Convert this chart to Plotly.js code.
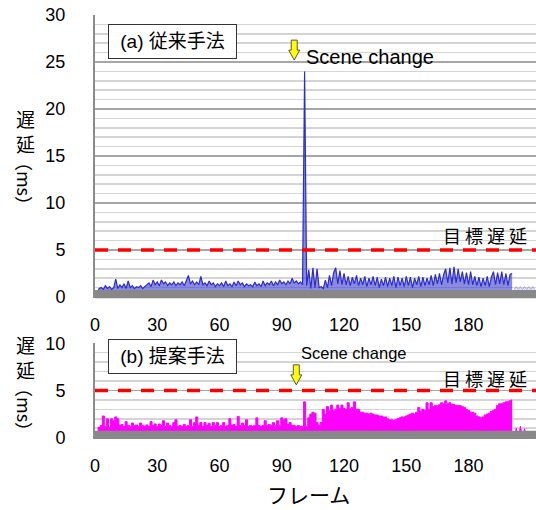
<!DOCTYPE html>
<html><head><meta charset="utf-8">
<script src="https://cdn.plot.ly/plotly-3.0.1.min.js"></script>
<style>html,body{margin:0;padding:0;background:#fff;}#chart{width:536px;height:510px;}</style>
</head><body><div id="chart"></div>
<script>
const xTicks = [0, 30, 60, 90, 120, 150, 180];
const targetDelay = 5;
// (a) conventional method, delay (ms) per frame, frames 1..201
const conventional = [
  0.3, 0.9, 1.0, 0.8, 1.2, 0.9, 1.1, 0.8, 1.0, 1.9,
  0.9, 1.3, 1.0, 1.4, 0.9, 1.7, 1.0, 1.2, 0.9, 1.1,
  1.0, 1.2, 0.9, 1.1, 1.3, 1.5, 1.1, 1.8, 1.3, 1.6,
  1.2, 1.8, 1.4, 1.6, 1.2, 1.5, 1.3, 1.6, 1.2, 1.5,
  1.3, 1.6, 1.2, 1.7, 2.3, 1.4, 1.7, 1.3, 1.6, 1.3,
  2.2, 1.3, 1.5, 1.2, 1.7, 1.3, 1.5, 1.1, 1.4, 1.2,
  1.5, 1.1, 1.7, 1.2, 1.4, 1.1, 1.6, 1.2, 1.7, 1.3,
  1.5, 1.1, 1.4, 1.2, 1.3, 1.1, 1.6, 1.2, 1.4, 1.1,
  1.7, 1.2, 1.5, 1.3, 1.7, 1.2, 1.6, 1.3, 1.8, 1.4,
  1.6, 1.3, 1.7, 1.4, 2.0, 1.5, 1.7, 1.4, 1.6, 1.3,
  24.0, 1.2, 2.9, 0.9, 3.1, 1.0, 3.0, 1.0, 1.1, 0.9,
  1.8, 1.0, 2.3, 1.2, 2.6, 3.1, 1.4, 2.8, 1.3, 2.5,
  1.3, 2.2, 1.2, 2.1, 1.4, 2.3, 1.2, 2.0, 1.3, 2.2,
  1.1, 2.0, 1.3, 2.2, 1.2, 2.1, 1.0, 1.9, 1.2, 2.1,
  1.1, 2.0, 1.2, 2.2, 1.0, 2.1, 1.2, 2.0, 1.1, 2.2,
  1.2, 2.1, 1.0, 2.0, 1.3, 2.2, 1.1, 2.1, 1.2, 2.0,
  1.3, 2.3, 1.2, 2.4, 1.4, 2.5, 1.3, 2.4, 3.0, 1.5,
  3.1, 1.4, 3.2, 1.5, 3.0, 1.6, 2.7, 1.4, 2.6, 1.3,
  2.7, 1.3, 2.2, 1.2, 2.1, 1.1, 2.0, 1.2, 2.2, 1.1,
  2.1, 2.7, 1.3, 2.6, 1.4, 2.7, 1.3, 2.5, 1.2, 2.4, 2.5
];
// pale tail after the sequence, frames 202..212
const conventionalTail = [0.8, 1.1, 0.8, 1.1, 0.8, 1.1, 0.8, 1.1, 0.8, 1.1, 0.8];
// (b) proposed method, delay (ms) per frame, frames 1..201
const proposed = [
  0.5, 1.1, 1.3, 2.3, 1.2, 2.0, 1.1, 2.0, 1.8, 2.2,
  2.0, 1.3, 1.4, 1.2, 1.7, 1.3, 1.2, 1.55, 1.3, 1.35,
  1.2, 1.55, 1.3, 1.2, 1.35, 1.2, 1.7, 1.3, 1.45, 1.2,
  1.45, 1.3, 1.8, 1.2, 1.55, 1.3, 1.2, 1.6, 1.9, 1.2,
  1.3, 1.2, 1.4, 1.2, 1.3, 1.9, 1.2, 1.6, 2.2, 1.3,
  1.6, 1.2, 1.6, 1.3, 1.5, 1.2, 1.6, 1.3, 1.6, 1.2,
  1.3, 1.6, 1.2, 1.3, 2.0, 1.3, 1.4, 1.2, 2.25, 1.3,
  1.55, 1.3, 1.9, 1.2, 1.3, 1.2, 1.3, 2.1, 1.3, 1.2,
  1.3, 1.8, 1.3, 1.4, 1.3, 1.6, 1.3, 1.8, 1.3, 2.1,
  1.9, 2.0, 1.4, 1.6, 1.3, 1.3, 1.2, 1.3, 1.2, 1.2,
  3.8, 1.2, 2.1, 2.5, 2.7, 2.6, 1.6, 1.3, 1.6, 3.0,
  2.5, 3.3, 2.9, 3.45, 2.9, 3.0, 3.45, 3.1, 3.45, 3.1,
  3.0, 3.7, 3.1, 3.2, 3.8, 3.0, 3.0, 2.7, 2.7, 2.6,
  2.6, 2.5, 2.6, 2.5, 2.4, 2.4, 2.3, 2.3, 2.2, 2.2,
  2.0, 1.9, 1.9, 1.85, 1.9, 2.0, 2.1, 2.2, 2.2, 2.3,
  2.4, 2.5, 2.6, 2.5, 2.7, 3.2, 2.8, 3.0, 2.9, 3.7,
  3.0, 3.7, 3.3, 3.4, 3.4, 3.5, 3.7, 3.6, 3.9, 3.6,
  3.7, 3.55, 3.5, 3.4, 3.4, 3.4, 3.3, 3.2, 3.0, 2.9,
  2.7, 2.7, 2.6, 2.3, 2.2, 2.1, 2.2, 2.4, 2.5, 2.6,
  2.8, 2.9, 3.0, 3.4, 3.6, 3.6, 3.7, 3.8, 3.8, 3.9, 4.0
];
// frames 202..208
const proposedTail = [0, 1.0, 0, 1.2, 0, 0.95, 0];

const frames = (arr, start) => arr.map((_, i) => start + i);

const FONT = 'Liberation Sans, Arial, "Noto Sans CJK JP", sans-serif';
const JP = '"Noto Sans CJK JP", "Liberation Sans", sans-serif';

const traces = [
  { x: frames(conventional, 1), y: conventional, type: 'scatter', mode: 'lines',
    line: { color: 'rgb(45,45,200)', width: 1.2 }, fill: 'tozeroy', fillcolor: 'rgba(60,60,205,0.6)',
    xaxis: 'x', yaxis: 'y', hoverinfo: 'skip' },
  { x: frames(conventionalTail, 202), y: conventionalTail, type: 'scatter', mode: 'lines',
    line: { color: 'rgba(150,150,230,0.8)', width: 1 }, fill: 'tozeroy', fillcolor: 'rgba(200,200,240,0.5)',
    xaxis: 'x', yaxis: 'y', hoverinfo: 'skip' },
  { x: frames(proposed, 1), y: proposed, type: 'scatter', mode: 'lines',
    line: { color: '#ff00ff', width: 1, shape: 'hvh' }, fill: 'tozeroy', fillcolor: '#ff00ff',
    xaxis: 'x2', yaxis: 'y2', hoverinfo: 'skip' },
  { x: frames(proposedTail, 202), y: proposedTail, type: 'scatter', mode: 'lines',
    line: { color: '#ff00ff', width: 1 }, fill: 'tozeroy', fillcolor: '#ff00ff',
    xaxis: 'x2', yaxis: 'y2', hoverinfo: 'skip' }
];

const yCommon = {
  dtick: 5, tick0: 0, showgrid: true, gridcolor: '#a6a6a6', gridwidth: 1.5,
  minor: { dtick: 1, showgrid: true, gridcolor: '#d4d4d4', gridwidth: 1.5 },
  zeroline: false, showline: true, linecolor: '#8c8c8c', linewidth: 2,
  ticks: 'outside', ticklen: 24, tickcolor: 'rgba(0,0,0,0)',
  tickfont: { size: 18, color: '#000', family: FONT }, fixedrange: true
};
const xCommon = {
  range: [0, 212.5], tickvals: xTicks, showgrid: false, zeroline: false, showline: false,
  ticks: 'outside', ticklen: 10, tickcolor: 'rgba(0,0,0,0)',
  tickfont: { size: 18, color: '#000', family: FONT }, fixedrange: true
};

const arrowPath = 'M0,0 L-5.5,10 L-3,10 L-3,20 L3,20 L3,10 L5.5,10 Z';

const layout = {
  width: 536, height: 510,
  margin: { l: 95, r: 0, t: 15, b: 71 },
  paper_bgcolor: '#fff', plot_bgcolor: '#fff',
  showlegend: false,
  font: { family: FONT, color: '#000' },
  xaxis: Object.assign({}, xCommon, { anchor: 'y', domain: [0, 1] }),
  yaxis: Object.assign({}, yCommon, { domain: [0.3314, 1], range: [-0.16, 30] }),
  xaxis2: Object.assign({}, xCommon, { anchor: 'y2', domain: [0, 1] }),
  yaxis2: Object.assign({}, yCommon, { domain: [0, 0.2257], range: [-0.14, 10] }),
  shapes: [
    { type: 'line', xref: 'paper', yref: 'y', x0: 0, x1: 1, y0: targetDelay, y1: targetDelay,
      line: { color: '#ff0000', width: 3.5, dash: '13px,10px' }, layer: 'above' },
    { type: 'line', xref: 'paper', yref: 'y2', x0: 0, x1: 1, y0: targetDelay, y1: targetDelay,
      line: { color: '#ff0000', width: 3.5, dash: '13px,10px' }, layer: 'above' },
    { type: 'rect', xref: 'paper', yref: 'y', x0: 0, x1: 1, y0: -0.16, y1: 0.75,
      fillcolor: '#888888', line: { width: 0 }, layer: 'above' },
    { type: 'rect', xref: 'paper', yref: 'y2', x0: 0, x1: 1, y0: -0.14, y1: 0.74,
      fillcolor: '#888888', line: { width: 0 }, layer: 'above' },
    { type: 'path', xref: 'x', yref: 'y', xsizemode: 'pixel', ysizemode: 'pixel',
      xanchor: 96, yanchor: 25.2, path: arrowPath,
      fillcolor: '#ffff00', line: { color: '#555', width: 1 }, layer: 'above' },
    { type: 'path', xref: 'x2', yref: 'y2', xsizemode: 'pixel', ysizemode: 'pixel',
      xanchor: 97, yanchor: 5.6, path: arrowPath,
      fillcolor: '#ffff00', line: { color: '#555', width: 1 }, layer: 'above' }
  ],
  annotations: [
    { xref: 'paper', yref: 'paper', x: 0.1757, y: 0.9375, xanchor: 'center', yanchor: 'middle',
      text: ' (a) 従来手法 ', showarrow: false, font: { size: 19, family: FONT },
      bgcolor: '#fff', bordercolor: '#333', borderwidth: 1, borderpad: 6 },
    { xref: 'paper', yref: 'paper', x: 0.1757, y: 0.1934, xanchor: 'center', yanchor: 'middle',
      text: ' (b) 提案手法 ', showarrow: false, font: { size: 19, family: FONT },
      bgcolor: '#fff', bordercolor: '#333', borderwidth: 1, borderpad: 6 },
    { xref: 'paper', yref: 'paper', x: 0.474, y: 0.901, xanchor: 'left', yanchor: 'middle',
      text: 'Scene change', showarrow: false, font: { size: 20, family: FONT } },
    { xref: 'paper', yref: 'paper', x: 0.463, y: 0.2028, xanchor: 'left', yanchor: 'middle',
      text: 'Scene change', showarrow: false, font: { size: 16.5, family: FONT } },
    { xref: 'paper', yref: 'paper', x: 0.884, y: 0.481, xanchor: 'center', yanchor: 'middle',
      text: '目 標 遅 延', showarrow: false, font: { size: 18, family: JP } },
    { xref: 'paper', yref: 'paper', x: 0.884, y: 0.1439, xanchor: 'center', yanchor: 'middle',
      text: '目 標 遅 延', showarrow: false, font: { size: 18, family: JP } },
    { xref: 'paper', yref: 'paper', x: -0.1587, y: 0.726, xanchor: 'center', yanchor: 'middle',
      text: '遅<br>延', showarrow: false, font: { size: 19, family: JP } },
    { xref: 'paper', yref: 'paper', x: -0.1587, y: 0.604, xanchor: 'center', yanchor: 'middle',
      text: '（ms）', textangle: 90, showarrow: false, font: { size: 18, family: JP } },
    { xref: 'paper', yref: 'paper', x: -0.1587, y: 0.1923, xanchor: 'center', yanchor: 'middle',
      text: '遅<br>延', showarrow: false, font: { size: 19, family: JP } },
    { xref: 'paper', yref: 'paper', x: -0.1587, y: 0.0708, xanchor: 'center', yanchor: 'middle',
      text: '（ms）', textangle: 90, showarrow: false, font: { size: 18, family: JP } },
    { xref: 'paper', yref: 'paper', x: 0.483, y: -0.1297, xanchor: 'center', yanchor: 'middle',
      text: 'フレーム', showarrow: false, font: { size: 21, family: JP } }
  ]
};

Plotly.newPlot('chart', traces, layout, { displayModeBar: false, staticPlot: true });
</script>
</body></html>
